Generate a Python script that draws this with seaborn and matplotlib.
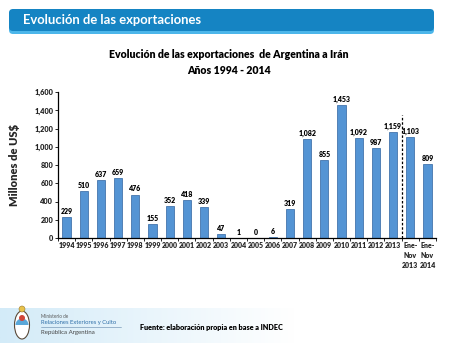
import matplotlib
matplotlib.use("Agg")
import matplotlib.pyplot as plt
import matplotlib.patches as mpatches
from matplotlib.ticker import FuncFormatter, FixedLocator
import numpy as np
import pandas as pd
import seaborn as sns

# Exportaciones de Argentina a Irán (millones de US$)
periodos = ['1994', '1995', '1996', '1997', '1998', '1999', '2000', '2001',
            '2002', '2003', '2004', '2005', '2006', '2007', '2008', '2009',
            '2010', '2011', '2012', '2013', 'Ene-\nNov\n2013', 'Ene-\nNov\n2014']
exportaciones = [229, 510, 637, 659, 476, 155, 352, 418, 339, 47, 1, 0, 6,
                 319, 1082, 855, 1453, 1092, 987, 1159, 1103, 809]
y_ticks = [0, 200, 400, 600, 800, 1000, 1200, 1400, 1600]

sns.set_theme(style="white")
plt.rcParams['font.family'] = ['Lato', 'DejaVu Sans']

fig = plt.figure(figsize=(4.5, 3.44), dpi=100)
fig.patch.set_facecolor('white')

# Encabezado azul
hdr = fig.add_axes([0, 0, 1, 1], zorder=0)
hdr.set_xlim(0, 450)
hdr.set_ylim(344, 0)
hdr.axis('off')
hdr.add_patch(mpatches.FancyBboxPatch((9, 10), 425, 24, boxstyle="round,pad=0,rounding_size=4",
                                      facecolor='#4cb6ea', edgecolor='none'))
hdr.add_patch(mpatches.FancyBboxPatch((9, 9), 425, 22, boxstyle="round,pad=0,rounding_size=4",
                                      facecolor='#1584c3', edgecolor='none'))
hdr.text(23, 20.5, 'Evolución de las exportaciones', color='white', fontsize=9.4,
         fontweight='bold', va='center', ha='left')

# Franja inferior con degradado
grad = np.linspace(1, 0, 256).reshape(1, -1)
cmap = matplotlib.colors.LinearSegmentedColormap.from_list('f', ['#ffffff', '#d3ebf8'])
hdr.imshow(grad, extent=(0, 295, 343, 308), cmap=cmap, aspect='auto', zorder=1)

# Escudo simplificado
hdr.add_patch(mpatches.Ellipse((22, 325), 15, 28, facecolor='white', edgecolor='#5a4a3a', lw=0.8, zorder=2))
hdr.add_patch(mpatches.Wedge((22, 325), 6.5, 180, 360, facecolor='#5aa7d8', edgecolor='none', zorder=3))
hdr.add_patch(mpatches.Circle((22, 318), 3, facecolor='#d0463a', edgecolor='none', zorder=3))
hdr.add_patch(mpatches.Circle((22, 309), 3, facecolor='#e8c24a', edgecolor='#9a7a30', lw=0.4, zorder=3))
hdr.text(41, 316, 'Ministerio de', fontsize=3.3, color='#555555', va='center', zorder=3)
hdr.text(41, 322.5, 'Relaciones Exteriores y Culto', fontsize=4.2, color='#2f6fa8', va='center', zorder=3)
hdr.plot([41, 121], [326.5, 326.5], color='#7a9ab8', lw=0.5, zorder=3)
hdr.text(41, 332.5, 'República Argentina', fontsize=4.4, color='#444444', va='center', zorder=3)
hdr.text(140, 327.5, 'Fuente: elaboración propia en base a INDEC', fontsize=5.2,
         fontweight='heavy', color='black', va='center', zorder=3)

# Títulos del gráfico
hdr.text(229, 55, 'Evolución de las exportaciones  de Argentina a Irán', fontsize=7.6,
         fontweight='heavy', ha='center', va='center', color='black')
hdr.text(229, 70, 'Años 1994 - 2014', fontsize=7.6, fontweight='heavy',
         ha='center', va='center', color='black')

# Gráfico de barras
ax = fig.add_axes([58 / 450, 1 - 238 / 344, 378 / 450, 146 / 344], zorder=2)
ax.patch.set_alpha(0)
df = pd.DataFrame({'periodo': periodos, 'valor': exportaciones})
sns.barplot(data=df, x='periodo', y='valor', color='#5494d4', saturation=1,
            width=0.48, edgecolor='#2f64a0', linewidth=0.5, ax=ax)

ax.bar_label(ax.containers[0], labels=[f'{v:,}' for v in exportaciones],
             fontsize=5.0, fontweight='heavy', padding=1.5, color='black')

ax.set_ylim(0, 1600)
ax.set_xlim(-0.5, len(periodos) - 0.5)
ax.yaxis.set_major_locator(FixedLocator(y_ticks))
ax.yaxis.set_major_formatter(FuncFormatter(lambda v, p: f'{int(v):,}'))
ax.set_xlabel('')
ax.set_ylabel('Millones de US$', fontsize=8, fontweight='heavy', labelpad=10)

for side in ['top', 'right']:
    ax.spines[side].set_visible(False)
for side in ['left', 'bottom']:
    ax.spines[side].set_color('black')
    ax.spines[side].set_linewidth(0.9)

ax.tick_params(axis='y', which='major', direction='out', length=2.5, width=0.7,
               labelsize=5.3, pad=1, left=True)
ax.tick_params(axis='x', which='major', length=0, labelsize=5.0, pad=3)
for lbl in ax.get_xticklabels() + ax.get_yticklabels():
    lbl.set_fontweight('heavy')
ax.set_xticks(np.arange(-0.5, len(periodos), 1), minor=True)
ax.tick_params(axis='x', which='minor', direction='out', length=2.5, width=0.7, bottom=True)
for lbl in ax.get_xticklabels():
    lbl.set_linespacing(1.5)
    lbl.set_va('top')

# Separación del período parcial
ax.axvline(19.5, ymin=0, ymax=0.84, color='black', lw=0.9, ls=(0, (2, 1.5)))

fig.savefig('out.png', dpi=100)
